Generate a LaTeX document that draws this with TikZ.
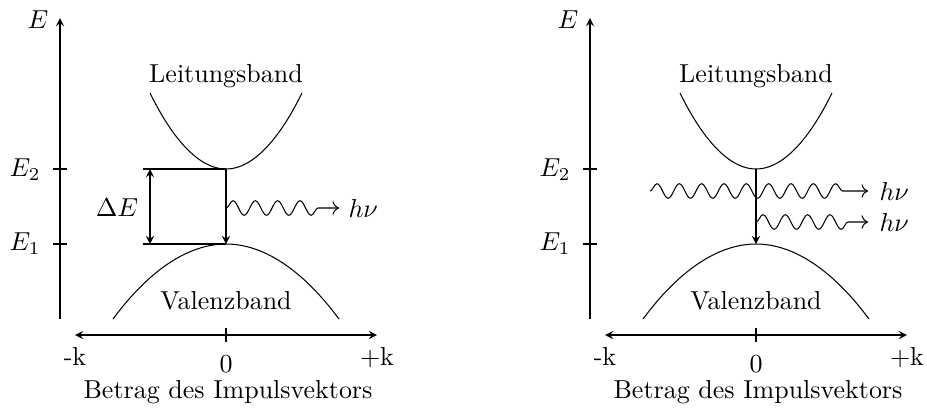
\documentclass[tikz,border=0pt]{standalone}
\usetikzlibrary{arrows.meta,decorations.pathmorphing}
\tikzset{
  photon/.style={->, decorate, decoration={snake, amplitude=2.8pt, segment length=8.6pt, post length=5.8pt}},
  lbl/.style={inner sep=0pt},
}
\begin{document}
\begin{tikzpicture}[x=0.385pt,y=-0.385pt]
\useasboundingbox (0,0) rectangle (927,407);
\foreach \s/\p in {0/L,530/R}{
\begin{scope}[xshift=\s*0.385pt]
  % axes
  \coordinate (\p yb) at (60,319);
  \coordinate (\p yt) at (60,18);
  \draw[-stealth] (\p yb) -- (\p yt);
  \node[lbl] (\p E) at (38,20) {$E$};
  \coordinate (\p xl) at (75,335);
  \coordinate (\p xr) at (377,335);
  \draw[stealth-stealth] (\p xl) -- (\p xr);
  \draw (226,328) -- (226,342);
  \node[lbl, anchor=base] (\p mk) at (75,365) {-k};
  \node[lbl, anchor=base] (\p pk) at (377,365) {+k};
  \node[lbl, anchor=base] (\p zero) at (226,372) {0};
  \node[lbl, anchor=base] (\p xlab) at (228,398) {Betrag des Impulsvektors};
  % ticks
  \draw (53,169) -- (67,169);
  \draw (53,244) -- (67,244);
  \node[lbl, anchor=east] (\p Etwo) at (41,170) {$E_2$};
  \node[lbl, anchor=east] (\p Eone) at (41,244) {$E_1$};
  % bands
  \coordinate (\p cb) at (226,169);
  \coordinate (\p vb) at (226,244);
  \draw (150,93) parabola bend (\p cb) (302,93);
  \draw (113,319) parabola bend (\p vb) (339,319);
  \node[lbl] (\p lb) at (226,76) {Leitungsband};
  \node[lbl] (\p vl) at (226,301) {Valenzband};
  \draw[-stealth] (\p cb) -- (\p vb);
\end{scope}
}
% left extras
\coordinate (d2) at (143,169);
\coordinate (d1) at (143,244);
\draw (d2) -- (Lcb);
\draw (d1) -- (Lvb);
\coordinate (a2) at (150,169);
\coordinate (a1) at (150,244);
\draw[stealth-stealth] (a2) -- (a1);
\node[lbl] (dE) at (117,208) {$\Delta E$};
\coordinate (w1s) at (226,208);
\coordinate (w1e) at (339,208);
\draw[photon] (w1s) -- (w1e);
\node[lbl, anchor=west] (hv1) at (348,208) {$h\nu$};
% right extras
\coordinate (w2s) at (650,191);
\coordinate (w2e) at (868,191);
\draw[photon] (w2s) -- (w2e);
\node[lbl, anchor=west] (hv2) at (879,191) {$h\nu$};
\coordinate (w3s) at (756,222);
\coordinate (w3e) at (868,222);
\draw[photon] (w3s) -- (w3e);
\node[lbl, anchor=west] (hv3) at (879,222) {$h\nu$};
\end{tikzpicture}
\end{document}
